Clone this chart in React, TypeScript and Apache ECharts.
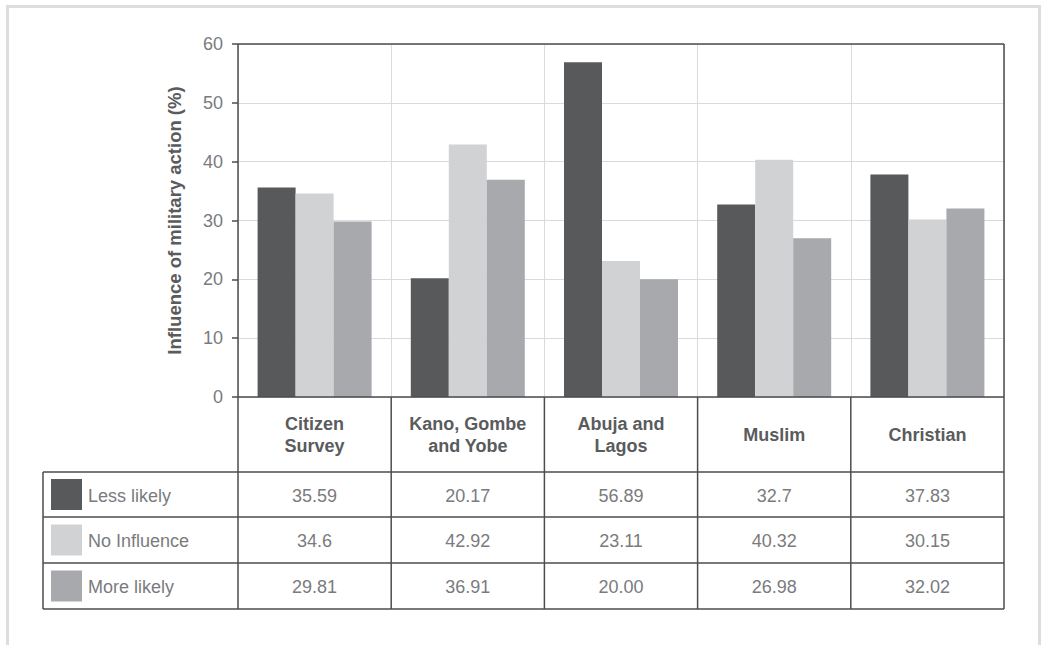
import React, { useEffect, useRef } from "react";
import * as echarts from "echarts";

const categories = ["Citizen\nSurvey", "Kano, Gombe\nand Yobe", "Abuja and\nLagos", "Muslim", "Christian"];
const seriesNames = ["Less likely", "No Influence", "More likely"];
const lessLikely = ["35.59", "20.17", "56.89", "32.7", "37.83"];
const noInfluence = ["34.6", "42.92", "23.11", "40.32", "30.15"];
const moreLikely = ["29.81", "36.91", "20.00", "26.98", "32.02"];
const seriesValues = [lessLikely, noInfluence, moreLikely];
const yMin = 0;
const yMax = 60;
const yInterval = 10;
const yAxisTitle = "Influence of military action (%)";

const COLORS = ["#58595b", "#d1d2d4", "#a7a9ac"];
const FONT = "'Liberation Sans', Arial, sans-serif";
const LINE = "#4d4d4f";
const TEXT = "#7a7b7e";
const HEAD = "#5a5b5d";

const W = 1043;
const H = 645;
const GL = 238;
const GR = 1004;
const GT = 44;
const GB = 397;
const TL = 43;
const HEADER_B = 472;
const ROW_B = [517, 563, 609];

export default function App() {
  const ref = useRef<HTMLDivElement>(null);
  useEffect(() => {
    document.body.style.margin = "0";
    const chart = echarts.init(ref.current!, null, { renderer: "svg" });
    const n = categories.length;
    const cw = (GR - GL) / n;
    const graphics: any[] = [];
    graphics.push({
      type: "rect",
      shape: { x: 7.5, y: 6.5, width: 1032, height: 700 },
      style: { fill: "none", stroke: "#dcdddf", lineWidth: 3 },
      z: 1,
    });
    const ln = (x1: number, y1: number, x2: number, y2: number) =>
      graphics.push({
        type: "line",
        shape: { x1, y1, x2, y2 },
        style: { stroke: LINE, lineWidth: 1.5 },
        z: 50,
      });
    ln(GL, GT, GR, GT);
    ln(GR, GT, GR, GB);
    ln(GL, GT, GL, ROW_B[2]);
    ln(GL, GB, GR, GB);
    for (let i = 1; i <= n; i++) ln(GL + cw * i, GB, GL + cw * i, ROW_B[2]);
    ln(TL, HEADER_B, GR, HEADER_B);
    ROW_B.forEach((y) => ln(TL, y, GR, y));
    ln(TL, HEADER_B, TL, ROW_B[2]);
    const rowTops = [HEADER_B, ROW_B[0], ROW_B[1]];
    seriesNames.forEach((name, r) => {
      const top = rowTops[r];
      const bot = ROW_B[r];
      const cy = (top + bot) / 2;
      graphics.push({
        type: "rect",
        shape: { x: 51, y: cy - 15.5, width: 31, height: 31 },
        style: { fill: COLORS[r] },
        z: 40,
      });
      graphics.push({
        type: "text",
        x: 88,
        y: cy + 1,
        style: { text: name, fill: TEXT, font: `400 18px ${FONT}`, verticalAlign: "middle", align: "left" },
        z: 40,
      });
      seriesValues[r].forEach((v, c) => {
        graphics.push({
          type: "text",
          x: GL + cw * (c + 0.5),
          y: cy + 1,
          style: { text: v, fill: TEXT, font: `400 18px ${FONT}`, verticalAlign: "middle", align: "center" },
          z: 40,
        });
      });
    });

    chart.setOption({
      animation: false,
      backgroundColor: "#ffffff",
      grid: { left: GL, right: W - GR, top: GT, bottom: H - GB, containLabel: false },
      xAxis: {
        type: "category",
        data: categories,
        axisLine: { show: false },
        axisTick: { show: false },
        splitLine: { show: true, lineStyle: { color: "#d9dadb", width: 1 } },
        axisLabel: {
          show: true,
          margin: 38,
          verticalAlign: "middle",
          align: "center",
          color: HEAD,
          fontFamily: FONT,
          fontWeight: "bold",
          fontSize: 18,
          lineHeight: 22,
          interval: 0,
        },
      },
      yAxis: {
        type: "value",
        min: yMin,
        max: yMax,
        interval: yInterval,
        name: yAxisTitle,
        nameLocation: "middle",
        nameGap: 54,
        nameTextStyle: { color: HEAD, fontFamily: FONT, fontWeight: "bold", fontSize: 18.5 },
        axisLine: { show: false },
        axisTick: { show: true, length: 6, lineStyle: { color: LINE, width: 1.5 } },
        axisLabel: { color: TEXT, fontFamily: FONT, fontWeight: 400, fontSize: 18, margin: 15 },
        splitLine: { show: true, lineStyle: { color: "#d9dadb", width: 1 } },
      },
      series: seriesNames.map((name, i) => ({
        name,
        type: "bar",
        data: seriesValues[i].map((s) => Number(s)),
        barWidth: 38,
        barGap: "0%",
        itemStyle: { color: COLORS[i] },
      })),
      graphic: graphics,
    });
    return () => chart.dispose();
  }, []);
  return <div ref={ref} style={{ width: W, height: H }} />;
}
